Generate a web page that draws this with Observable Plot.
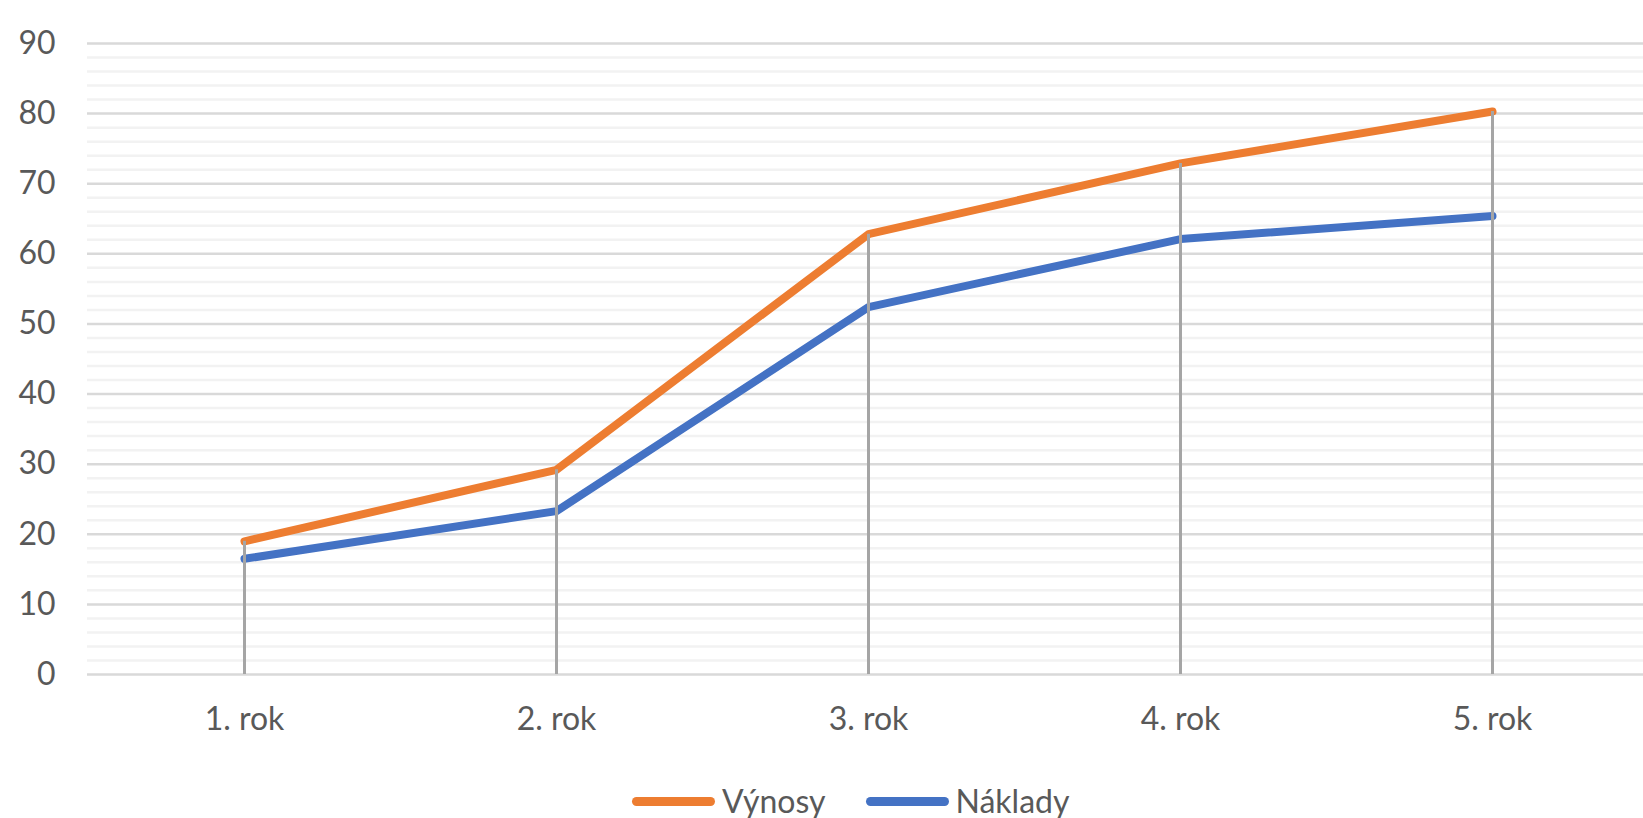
<!DOCTYPE html>
<html>
<head>
<meta charset="utf-8">
<script src="https://cdn.jsdelivr.net/npm/d3@7"></script>
<script src="https://cdn.jsdelivr.net/npm/@observablehq/plot@0.6"></script>
<style>
  html, body { margin: 0; padding: 0; background: #fff; overflow: hidden; }
  #wrap { position: relative; width: 1643px; height: 818px; font-family: Lato, "Open Sans", sans-serif; }
  #legend { position: absolute; top: 778px; left: 632px; display: flex; align-items: center; font-size: 32px; color: #595959; }
  .item { display: flex; align-items: center; }
  .sw { width: 83px; height: 9px; border-radius: 4.5px; margin-right: 7px; }
  .lab { line-height: 46px; }
</style>
</head>
<body>
<div id="wrap">
  <div id="chart"></div>
  <div id="legend"></div>
</div>
<script>
const categories = ["1. rok", "2. rok", "3. rok", "4. rok", "5. rok"];
const vynosy = [19.0, 29.2, 62.8, 72.9, 80.3];
const naklady = [16.5, 23.3, 52.4, 62.1, 65.4];
const seriesNames = ["Výnosy", "Náklady"];
const seriesColors = ["#ED7D31", "#4472C4"];
const majorTicks = [0, 10, 20, 30, 40, 50, 60, 70, 80, 90];
const minorTicks = d3.range(0, 91, 2).filter(v => v % 10 !== 0);

const rows = [];
categories.forEach((c, i) => {
  rows.push({cat: c, series: seriesNames[0], value: vynosy[i]});
  rows.push({cat: c, series: seriesNames[1], value: naklady[i]});
});
const drops = categories.map((c, i) => ({cat: c, top: Math.max(vynosy[i], naklady[i])}));

const chart = Plot.plot({
  width: 1643,
  height: 760,
  marginLeft: 87,
  marginRight: 0,
  marginTop: 43,
  marginBottom: 86,
  style: {fontFamily: "Lato, 'Open Sans', sans-serif", fontSize: "32px", color: "#595959", background: "#fff"},
  x: {type: "band", domain: categories, range: [87, 1649], padding: 0, label: null},
  y: {domain: [0, 90], label: null},
  color: {domain: seriesNames, range: seriesColors},
  marks: [
    Plot.ruleY(minorTicks, {stroke: "#F2F2F2", strokeWidth: 2.5}),
    Plot.ruleY(majorTicks, {stroke: "#D9D9D9", strokeWidth: 2.5}),
    Plot.line(rows, {x: "cat", y: "value", stroke: "series", z: "series", strokeWidth: 8, strokeLinecap: "round", strokeLinejoin: "round"}),
    Plot.ruleX(drops, {x: "cat", y1: 0, y2: "top", stroke: "#A5A5A5", strokeWidth: 3}),
    Plot.axisY(majorTicks, {tickSize: 0, tickPadding: 32, fill: "#595959", fontSize: 32, label: null}),
    Plot.axisX({tickSize: 0, tickPadding: 33, fill: "#595959", fontSize: 32, label: null})
  ]
});
document.getElementById("chart").appendChild(chart);

const legend = document.getElementById("legend");
seriesNames.forEach((name, i) => {
  const item = document.createElement("div");
  item.className = "item";
  if (i > 0) item.style.marginLeft = "40px";
  const sw = document.createElement("div");
  sw.className = "sw";
  sw.style.background = seriesColors[i];
  const lab = document.createElement("span");
  lab.className = "lab";
  lab.textContent = name;
  item.appendChild(sw);
  item.appendChild(lab);
  legend.appendChild(item);
});
</script>
</body>
</html>
